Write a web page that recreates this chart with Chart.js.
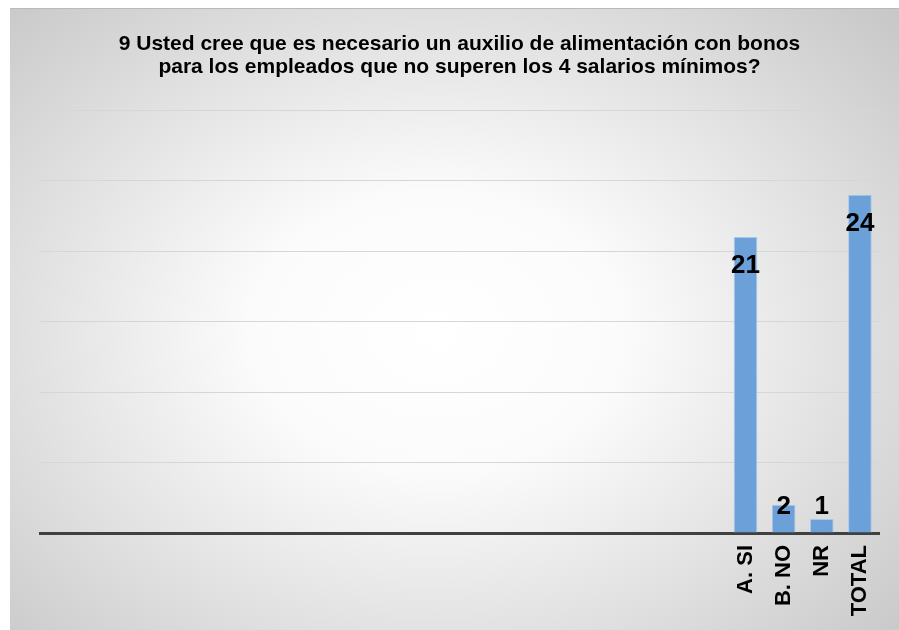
<!DOCTYPE html>
<html>
<head>
<meta charset="utf-8">
<script src="https://cdn.jsdelivr.net/npm/chart.js@4"></script>
<style>
    html, body { margin: 0; padding: 0; background: #ffffff; }
    #box {
        position: absolute;
        left: 10px;
        top: 8px;
        width: 889px;
        height: 622px;
        border-top: 1px solid #b9b9b9;
        box-sizing: border-box;
        background: radial-gradient(ellipse 70% 75% at 48% 52%, #ffffff 0%, #fbfbfb 30%, #dedede 70%, #c8c8c8 100%);
    }
</style>
</head>
<body>
<div id="box"><canvas id="myChart" width="889" height="621"></canvas></div>
<script>
const titleLines = [
    '9 Usted cree que es necesario un auxilio de alimentación con bonos',
    'para los empleados que no superen los 4 salarios mínimos?'
];
const emptySlots = 18;          // columnas vacias antes de los datos
const categories = ['A. SI', 'B. NO', 'NR', 'TOTAL'];
const values = [21, 2, 1, 24];
const yMax = 30;
const yStep = 5;

document.addEventListener('DOMContentLoaded', function() {
    const labels = Array(emptySlots).fill('').concat(categories);
    const data = Array(emptySlots).fill(null).concat(values);

    // etiquetas de valor encima / dentro de las barras
    const valueLabels = {
        id: 'valueLabels',
        afterDatasetsDraw(chart) {
            const ctx = chart.ctx;
            const meta = chart.getDatasetMeta(0);
            const base = chart.chartArea.bottom;
            ctx.save();
            ctx.font = 'bold 26px "Liberation Sans", Arial, sans-serif';
            ctx.fillStyle = '#000000';
            ctx.textAlign = 'center';
            ctx.textBaseline = 'middle';
            meta.data.forEach((bar, i) => {
                const v = data[i];
                if (v === null) return;
                const y = Math.min(bar.y + 29, base - 26);
                ctx.fillText(String(v), bar.x, y);
            });
            ctx.restore();
        }
    };

    const ctx = document.getElementById('myChart').getContext('2d');

    new Chart(ctx, {
        type: 'bar',
        data: {
            labels: labels,
            datasets: [
                {
                    data: data,
                    backgroundColor: '#6ca0d8',
                    borderColor: '#a7c8ec',
                    borderWidth: 1,
                    barPercentage: 0.62,
                    categoryPercentage: 1
                }
            ]
        },
        options: {
            responsive: false,
            animation: false,
            layout: {
                padding: { left: 30, right: 20, top: 0, bottom: 0 }
            },
            plugins: {
                legend: { display: false },
                tooltip: { enabled: false },
                title: {
                    display: true,
                    text: titleLines,
                    color: '#000000',
                    font: { family: '"Liberation Sans", Arial, sans-serif', size: 21, weight: 'bold', lineHeight: 1.12 },
                    padding: { top: 23, bottom: 31 }
                }
            },
            scales: {
                x: {
                    grid: { display: false, drawTicks: false },
                    border: { display: true, color: '#404040', width: 3 },
                    ticks: {
                        color: '#000000',
                        autoSkip: false,
                        minRotation: 90,
                        maxRotation: 90,
                        padding: 12,
                        font: { family: '"Liberation Sans", Arial, sans-serif', size: 22, weight: 'bold' }
                    },
                    afterFit: function(scale) { scale.height = 97; }
                },
                y: {
                    min: 0,
                    max: yMax,
                    grid: { color: '#d6d6d6', lineWidth: 1, drawTicks: false },
                    border: { display: false },
                    ticks: { display: false, stepSize: yStep },
                    afterFit: function(scale) { scale.width = 0; }
                }
            }
        },
        plugins: [valueLabels]
    });
});
</script>
</body>
</html>
